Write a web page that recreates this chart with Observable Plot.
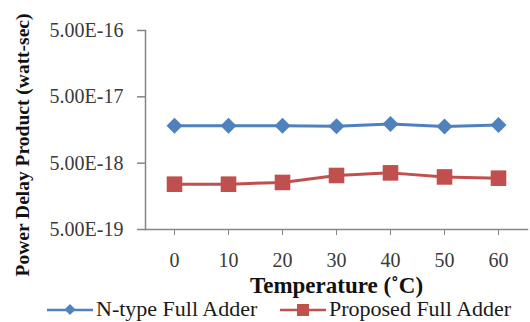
<!DOCTYPE html>
<html>
<head>
<meta charset="utf-8">
<script src="https://cdn.jsdelivr.net/npm/d3@7"></script>
<script src="https://cdn.jsdelivr.net/npm/@observablehq/plot@0.6"></script>
<style>
  body { margin: 0; background: #fff; }
  #chart { width: 530px; height: 322px; position: relative; overflow: hidden; }
  #legend { position: absolute; left: 0; top: 298px; width: 530px; height: 22px;
    font-family: "Liberation Serif", "Times New Roman", serif; font-size: 22px; color: #1a1a1a; line-height: 22px; }
  .item { position: absolute; top: 0; display: flex; align-items: center; height: 22px; white-space: nowrap; }
  .item svg { margin-right: 3px; }
</style>
</head>
<body>
<div id="chart"></div>
<script>
const temperatures = [0, 10, 20, 30, 40, 50, 60];
const nTypeFullAdder = [1.83e-17, 1.83e-17, 1.83e-17, 1.80e-17, 1.95e-17, 1.79e-17, 1.88e-17];
const proposedFullAdder = [2.41e-18, 2.41e-18, 2.56e-18, 3.26e-18, 3.57e-18, 3.10e-18, 2.97e-18];
const yTicks = [5e-19, 5e-18, 5e-17, 5e-16];
const yTickLabels = ["5.00E-19", "5.00E-18", "5.00E-17", "5.00E-16"];
const seriesNames = ["N-type Full Adder", "Proposed Full Adder"];
const seriesColors = ["#4F81BD", "#C0504D"];

const nData = temperatures.map((t, i) => ({t, v: nTypeFullAdder[i]}));
const pData = temperatures.map((t, i) => ({t, v: proposedFullAdder[i]}));
const yTickData = yTicks.map((v, i) => ({v, label: yTickLabels[i]}));

const axisColor = "#868686";
const serif = "'Liberation Serif', 'Times New Roman', serif";

const plot = Plot.plot({
  width: 530,
  height: 298,
  marginLeft: 145,
  marginRight: 3,
  marginTop: 30,
  marginBottom: 69,
  style: {fontFamily: serif, fontSize: "20px", color: "#333", background: "#fff", overflow: "visible"},
  x: {type: "point", domain: temperatures, padding: 0.5},
  y: {type: "log", domain: [5e-19, 5e-16]},
  marks: [
    Plot.axisY({ticks: yTicks, tickSize: 8, tickFormat: () => "", stroke: axisColor, strokeWidth: 1.5, label: null}),
    Plot.axisX({tickSize: 6, tickPadding: 17, stroke: axisColor, fill: "#3a3a3a", label: null, fontSize: 20}),
    Plot.frame({anchor: "left", stroke: axisColor, strokeWidth: 1.5}),
    Plot.frame({anchor: "bottom", stroke: axisColor, strokeWidth: 1.5}),
    Plot.line(nData, {x: "t", y: "v", stroke: seriesColors[0], strokeWidth: 3}),
    Plot.dot(nData, {x: "t", y: "v", symbol: "diamond2", fill: seriesColors[0], r: 7.2, stroke: "none"}),
    Plot.line(pData, {x: "t", y: "v", stroke: seriesColors[1], strokeWidth: 3}),
    Plot.dot(pData, {x: "t", y: "v", symbol: "square", fill: seriesColors[1], r: 8.8, stroke: "none"}),
    Plot.text(yTickData, {y: "v", text: "label", frameAnchor: "left", textAnchor: "end", dx: -22,
      fontSize: 20, fill: "#3a3a3a"}),
    Plot.text(["Temperature (˚C)"], {frameAnchor: "bottom", dy: 63, fontWeight: "bold", fontSize: 23, fill: "#111"}),
    Plot.text(["Power Delay Product (watt-sec)"], {frameAnchor: "left", textAnchor: "middle", rotate: -90, dx: -123, dy: 15,
      fontWeight: "bold", fontSize: 19.5, fill: "#111"})
  ]
});
document.getElementById("chart").appendChild(plot);

const legend = document.createElement("div");
legend.id = "legend";
const positions = [47, 280];
const symbols = [
  '<polygon points="23,3 28.5,8.5 23,14 17.5,8.5" fill="#4F81BD"/>',
  '<rect x="17" y="3" width="12" height="12" fill="#C0504D"/>'
];
seriesNames.forEach((name, i) => {
  const item = document.createElement("div");
  item.className = "item";
  item.style.left = positions[i] + "px";
  item.innerHTML = `<svg width="46" height="17"><line x1="0" y1="9" x2="46" y2="9" stroke="${seriesColors[i]}" stroke-width="2.5"/>${symbols[i]}</svg><span>${name}</span>`;
  legend.appendChild(item);
});
document.getElementById("chart").appendChild(legend);
</script>
</body>
</html>
